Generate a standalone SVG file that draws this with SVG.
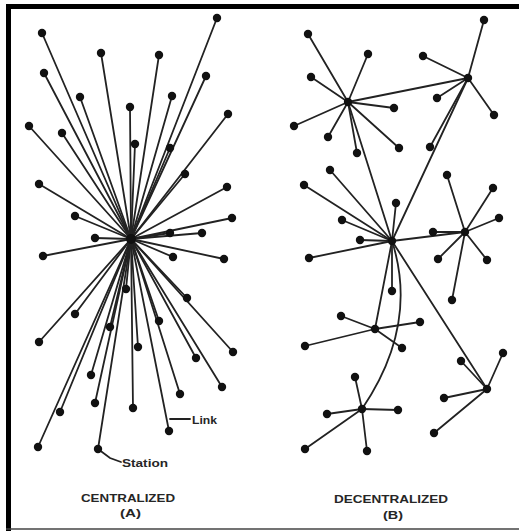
<svg xmlns="http://www.w3.org/2000/svg" width="519" height="531" viewBox="0 0 519 531">
<style>
.l{stroke:#222;stroke-width:1.8;fill:none;stroke-linecap:round}
.n{fill:#111}
.h{fill:#111}
.t{font-family:"Liberation Sans",Arial,sans-serif;font-weight:bold;font-size:11px;fill:#262626}
</style>
<rect width="519" height="531" fill="#fff"/>
<g id="frame">
<rect x="6" y="4" width="513" height="5" fill="#000"/>
<rect x="6" y="4" width="5" height="527" fill="#000"/>
<line x1="6" y1="529" x2="519" y2="529" stroke="#444" stroke-width="1.5"/>
</g>
<g id="connectors" class="l">
<line x1="131" y1="239" x2="42" y2="33"/>
<line x1="131" y1="239" x2="101" y2="53"/>
<line x1="131" y1="239" x2="159" y2="55"/>
<line x1="131" y1="239" x2="217" y2="18"/>
<line x1="131" y1="239" x2="44" y2="73"/>
<line x1="131" y1="239" x2="206" y2="76"/>
<line x1="131" y1="239" x2="80" y2="97"/>
<line x1="131" y1="239" x2="172" y2="96"/>
<line x1="131" y1="239" x2="130" y2="107"/>
<line x1="131" y1="239" x2="228" y2="114"/>
<line x1="131" y1="239" x2="29" y2="126"/>
<line x1="131" y1="239" x2="62" y2="133"/>
<line x1="131" y1="239" x2="135" y2="144"/>
<line x1="131" y1="239" x2="170" y2="148"/>
<line x1="131" y1="239" x2="185" y2="174"/>
<line x1="131" y1="239" x2="39" y2="184"/>
<line x1="131" y1="239" x2="227" y2="187"/>
<line x1="131" y1="239" x2="75" y2="216"/>
<line x1="131" y1="239" x2="232" y2="218"/>
<line x1="131" y1="239" x2="95" y2="238"/>
<line x1="131" y1="239" x2="170" y2="233"/>
<line x1="131" y1="239" x2="202" y2="233"/>
<line x1="131" y1="239" x2="43" y2="256"/>
<line x1="131" y1="239" x2="173" y2="257"/>
<line x1="131" y1="239" x2="224" y2="259"/>
<line x1="131" y1="239" x2="126" y2="289"/>
<line x1="131" y1="239" x2="187" y2="298"/>
<line x1="131" y1="239" x2="75" y2="314"/>
<line x1="131" y1="239" x2="159" y2="321"/>
<line x1="131" y1="239" x2="110" y2="327"/>
<line x1="131" y1="239" x2="39" y2="342"/>
<line x1="131" y1="239" x2="233" y2="352"/>
<line x1="131" y1="239" x2="138" y2="347"/>
<line x1="131" y1="239" x2="196" y2="358"/>
<line x1="131" y1="239" x2="91" y2="375"/>
<line x1="131" y1="239" x2="222" y2="387"/>
<line x1="131" y1="239" x2="95" y2="403"/>
<line x1="131" y1="239" x2="133" y2="408"/>
<line x1="131" y1="239" x2="180" y2="394"/>
<line x1="131" y1="239" x2="60" y2="412"/>
<line x1="131" y1="239" x2="169" y2="431"/>
<line x1="131" y1="239" x2="38" y2="447"/>
<line x1="131" y1="239" x2="98" y2="449"/>
<line x1="170" y1="419" x2="190" y2="419"/>
<polyline points="98,449 110,458 121,462"/>
<line x1="348" y1="102" x2="308" y2="34"/>
<line x1="348" y1="102" x2="368" y2="54"/>
<line x1="348" y1="102" x2="311" y2="77"/>
<line x1="348" y1="102" x2="394" y2="108"/>
<line x1="348" y1="102" x2="294" y2="126"/>
<line x1="348" y1="102" x2="328" y2="137"/>
<line x1="348" y1="102" x2="399" y2="148"/>
<line x1="348" y1="102" x2="357" y2="153"/>
<line x1="348" y1="102" x2="468" y2="78"/>
<line x1="348" y1="102" x2="392" y2="241"/>
<line x1="468" y1="78" x2="484" y2="20"/>
<line x1="468" y1="78" x2="423" y2="56"/>
<line x1="468" y1="78" x2="437" y2="98"/>
<line x1="468" y1="78" x2="494" y2="115"/>
<line x1="468" y1="78" x2="430" y2="147"/>
<line x1="468" y1="78" x2="392" y2="241"/>
<line x1="392" y1="241" x2="330" y2="170"/>
<line x1="392" y1="241" x2="304" y2="185"/>
<line x1="392" y1="241" x2="396" y2="203"/>
<line x1="392" y1="241" x2="342" y2="220"/>
<line x1="392" y1="241" x2="360" y2="240"/>
<line x1="392" y1="241" x2="309" y2="258"/>
<line x1="392" y1="241" x2="392" y2="291"/>
<line x1="392" y1="241" x2="465" y2="232"/>
<line x1="392" y1="241" x2="375" y2="329"/>
<line x1="392" y1="241" x2="487" y2="389"/>
<path d="M392,241 Q419,325 362,409"/>
<line x1="465" y1="232" x2="447" y2="175"/>
<line x1="465" y1="232" x2="493" y2="188"/>
<line x1="465" y1="232" x2="499" y2="218"/>
<line x1="465" y1="232" x2="433" y2="232"/>
<line x1="465" y1="232" x2="438" y2="259"/>
<line x1="465" y1="232" x2="487" y2="260"/>
<line x1="465" y1="232" x2="452" y2="300"/>
<line x1="375" y1="329" x2="341" y2="316"/>
<line x1="375" y1="329" x2="305" y2="346"/>
<line x1="375" y1="329" x2="402" y2="348"/>
<line x1="375" y1="329" x2="420" y2="322"/>
<line x1="362" y1="409" x2="355" y2="377"/>
<line x1="362" y1="409" x2="327" y2="414"/>
<line x1="362" y1="409" x2="398" y2="410"/>
<line x1="362" y1="409" x2="305" y2="449"/>
<line x1="362" y1="409" x2="367" y2="451"/>
<line x1="487" y1="389" x2="503" y2="353"/>
<line x1="487" y1="389" x2="461" y2="361"/>
<line x1="487" y1="389" x2="444" y2="398"/>
<line x1="487" y1="389" x2="434" y2="433"/>
</g>
<g id="nodes-a">
<g id="a-hub"><circle class="h" cx="131" cy="239" r="5"/></g>
<g id="a1"><circle class="n" cx="42" cy="33" r="4.2"/></g>
<g id="a2"><circle class="n" cx="101" cy="53" r="4.2"/></g>
<g id="a3"><circle class="n" cx="159" cy="55" r="4.2"/></g>
<g id="a4"><circle class="n" cx="217" cy="18" r="4.2"/></g>
<g id="a5"><circle class="n" cx="44" cy="73" r="4.2"/></g>
<g id="a6"><circle class="n" cx="206" cy="76" r="4.2"/></g>
<g id="a7"><circle class="n" cx="80" cy="97" r="4.2"/></g>
<g id="a8"><circle class="n" cx="172" cy="96" r="4.2"/></g>
<g id="a9"><circle class="n" cx="130" cy="107" r="4.2"/></g>
<g id="a10"><circle class="n" cx="228" cy="114" r="4.2"/></g>
<g id="a11"><circle class="n" cx="29" cy="126" r="4.2"/></g>
<g id="a12"><circle class="n" cx="62" cy="133" r="4.2"/></g>
<g id="a13"><circle class="n" cx="135" cy="144" r="4.2"/></g>
<g id="a14"><circle class="n" cx="170" cy="148" r="4.2"/></g>
<g id="a15"><circle class="n" cx="185" cy="174" r="4.2"/></g>
<g id="a16"><circle class="n" cx="39" cy="184" r="4.2"/></g>
<g id="a17"><circle class="n" cx="227" cy="187" r="4.2"/></g>
<g id="a18"><circle class="n" cx="75" cy="216" r="4.2"/></g>
<g id="a19"><circle class="n" cx="232" cy="218" r="4.2"/></g>
<g id="a20"><circle class="n" cx="95" cy="238" r="4.2"/></g>
<g id="a21"><circle class="n" cx="170" cy="233" r="4.2"/></g>
<g id="a22"><circle class="n" cx="202" cy="233" r="4.2"/></g>
<g id="a23"><circle class="n" cx="43" cy="256" r="4.2"/></g>
<g id="a24"><circle class="n" cx="173" cy="257" r="4.2"/></g>
<g id="a25"><circle class="n" cx="224" cy="259" r="4.2"/></g>
<g id="a26"><circle class="n" cx="126" cy="289" r="4.2"/></g>
<g id="a27"><circle class="n" cx="187" cy="298" r="4.2"/></g>
<g id="a28"><circle class="n" cx="75" cy="314" r="4.2"/></g>
<g id="a29"><circle class="n" cx="159" cy="321" r="4.2"/></g>
<g id="a30"><circle class="n" cx="110" cy="327" r="4.2"/></g>
<g id="a31"><circle class="n" cx="39" cy="342" r="4.2"/></g>
<g id="a32"><circle class="n" cx="233" cy="352" r="4.2"/></g>
<g id="a33"><circle class="n" cx="138" cy="347" r="4.2"/></g>
<g id="a34"><circle class="n" cx="196" cy="358" r="4.2"/></g>
<g id="a35"><circle class="n" cx="91" cy="375" r="4.2"/></g>
<g id="a36"><circle class="n" cx="222" cy="387" r="4.2"/></g>
<g id="a37"><circle class="n" cx="95" cy="403" r="4.2"/></g>
<g id="a38"><circle class="n" cx="133" cy="408" r="4.2"/></g>
<g id="a39"><circle class="n" cx="180" cy="394" r="4.2"/></g>
<g id="a40"><circle class="n" cx="60" cy="412" r="4.2"/></g>
<g id="a41"><circle class="n" cx="169" cy="431" r="4.2"/></g>
<g id="a42"><circle class="n" cx="38" cy="447" r="4.2"/></g>
<g id="a43"><circle class="n" cx="98" cy="449" r="4.2"/></g>
</g>
<g id="nodes-b">
<g id="b-hub1"><circle class="h" cx="348" cy="102" r="4.2"/></g>
<g id="b-hub2"><circle class="h" cx="468" cy="78" r="4.2"/></g>
<g id="b-hubc"><circle class="h" cx="392" cy="241" r="4.2"/></g>
<g id="b-hub3"><circle class="h" cx="465" cy="232" r="4.2"/></g>
<g id="b-hub4"><circle class="h" cx="375" cy="329" r="4.2"/></g>
<g id="b-hub5"><circle class="h" cx="362" cy="409" r="4.2"/></g>
<g id="b-hub6"><circle class="h" cx="487" cy="389" r="4.2"/></g>
<g id="b1"><circle class="n" cx="308" cy="34" r="4.2"/></g>
<g id="b2"><circle class="n" cx="368" cy="54" r="4.2"/></g>
<g id="b3"><circle class="n" cx="311" cy="77" r="4.2"/></g>
<g id="b4"><circle class="n" cx="394" cy="108" r="4.2"/></g>
<g id="b5"><circle class="n" cx="294" cy="126" r="4.2"/></g>
<g id="b6"><circle class="n" cx="328" cy="137" r="4.2"/></g>
<g id="b7"><circle class="n" cx="399" cy="148" r="4.2"/></g>
<g id="b8"><circle class="n" cx="357" cy="153" r="4.2"/></g>
<g id="b9"><circle class="n" cx="484" cy="20" r="4.2"/></g>
<g id="b10"><circle class="n" cx="423" cy="56" r="4.2"/></g>
<g id="b11"><circle class="n" cx="437" cy="98" r="4.2"/></g>
<g id="b12"><circle class="n" cx="494" cy="115" r="4.2"/></g>
<g id="b13"><circle class="n" cx="430" cy="147" r="4.2"/></g>
<g id="b14"><circle class="n" cx="330" cy="170" r="4.2"/></g>
<g id="b15"><circle class="n" cx="304" cy="185" r="4.2"/></g>
<g id="b16"><circle class="n" cx="396" cy="203" r="4.2"/></g>
<g id="b17"><circle class="n" cx="342" cy="220" r="4.2"/></g>
<g id="b18"><circle class="n" cx="360" cy="240" r="4.2"/></g>
<g id="b19"><circle class="n" cx="309" cy="258" r="4.2"/></g>
<g id="b20"><circle class="n" cx="392" cy="291" r="4.2"/></g>
<g id="b21"><circle class="n" cx="447" cy="175" r="4.2"/></g>
<g id="b22"><circle class="n" cx="493" cy="188" r="4.2"/></g>
<g id="b23"><circle class="n" cx="499" cy="218" r="4.2"/></g>
<g id="b24"><circle class="n" cx="433" cy="232" r="4.2"/></g>
<g id="b25"><circle class="n" cx="438" cy="259" r="4.2"/></g>
<g id="b26"><circle class="n" cx="487" cy="260" r="4.2"/></g>
<g id="b27"><circle class="n" cx="452" cy="300" r="4.2"/></g>
<g id="b28"><circle class="n" cx="341" cy="316" r="4.2"/></g>
<g id="b29"><circle class="n" cx="305" cy="346" r="4.2"/></g>
<g id="b30"><circle class="n" cx="402" cy="348" r="4.2"/></g>
<g id="b31"><circle class="n" cx="420" cy="322" r="4.2"/></g>
<g id="b32"><circle class="n" cx="355" cy="377" r="4.2"/></g>
<g id="b33"><circle class="n" cx="327" cy="414" r="4.2"/></g>
<g id="b34"><circle class="n" cx="398" cy="410" r="4.2"/></g>
<g id="b35"><circle class="n" cx="305" cy="449" r="4.2"/></g>
<g id="b36"><circle class="n" cx="367" cy="451" r="4.2"/></g>
<g id="b37"><circle class="n" cx="503" cy="353" r="4.2"/></g>
<g id="b38"><circle class="n" cx="461" cy="361" r="4.2"/></g>
<g id="b39"><circle class="n" cx="444" cy="398" r="4.2"/></g>
<g id="b40"><circle class="n" cx="434" cy="433" r="4.2"/></g>
</g>
<g id="labels">
<text class="t" x="192" y="424" textLength="25" lengthAdjust="spacingAndGlyphs">Link</text>
<text class="t" x="122" y="467" textLength="46" lengthAdjust="spacingAndGlyphs">Station</text>
<text class="t" x="81" y="502" textLength="94" lengthAdjust="spacingAndGlyphs">CENTRALIZED</text>
<text class="t" x="120" y="517" textLength="21" lengthAdjust="spacingAndGlyphs">(A)</text>
<text class="t" x="334" y="503" textLength="114" lengthAdjust="spacingAndGlyphs">DECENTRALIZED</text>
<text class="t" x="383" y="519" textLength="20" lengthAdjust="spacingAndGlyphs">(B)</text>
</g>
</svg>
